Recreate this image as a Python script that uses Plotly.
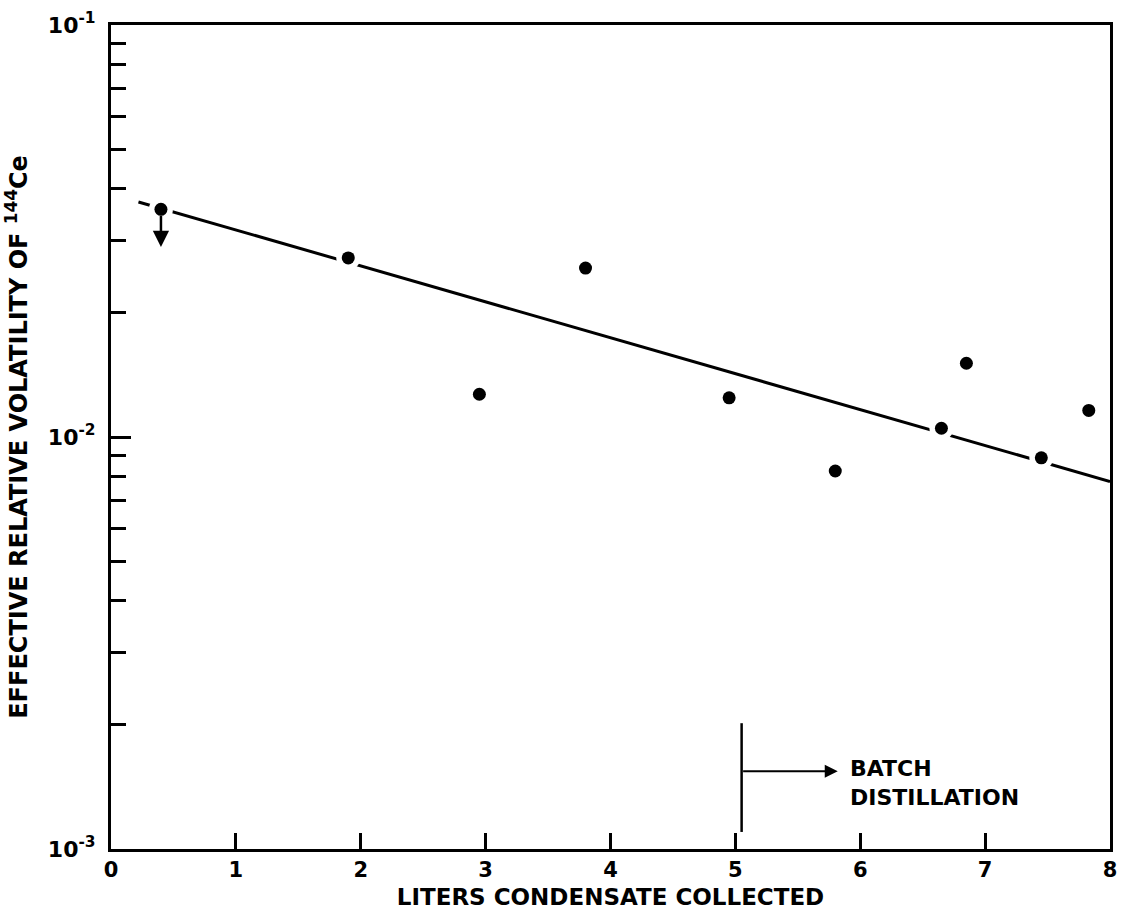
import plotly.graph_objects as go
import math

# Data
liters = [0.4, 1.9, 2.95, 3.8, 4.95, 5.8, 6.65, 6.85, 7.45, 7.83]
volatility = [0.0357, 0.0272, 0.0127, 0.0257, 0.01245, 0.00827, 0.0105, 0.0151, 0.0089, 0.0116]
fit_x = [0.22, 8.0]
fit_y = [0.0372, 0.0078]
limit_x = 0.4
limit_from = 0.0357
limit_to = 0.0289
batch_x = 5.05
batch_line_y = [0.0011, 0.00202]
batch_arrow_y = 0.001545
batch_arrow_end = 5.82
x_ticks = [0, 1, 2, 3, 4, 5, 6, 7, 8]
y_major = [0.001, 0.01, 0.1]
y_major_text = ["10<sup>-3</sup>", "10<sup>-2</sup>", "10<sup>-1</sup>"]
y_minor = [m * d for d in (0.001, 0.01) for m in range(2, 10)]

FONT = "DejaVu Sans"

fig = go.Figure()
fig.add_trace(go.Scatter(x=fit_x, y=fit_y, mode="lines",
                         line=dict(color="black", width=3), showlegend=False))
# white halos that break the fitted line around each point
fig.add_trace(go.Scatter(x=liters, y=volatility, mode="markers", hoverinfo="skip",
                         marker=dict(color="white", size=24), showlegend=False))
fig.add_trace(go.Scatter(x=liters, y=volatility, mode="markers",
                         marker=dict(color="black", size=13), showlegend=False))
# batch distillation vertical line
fig.add_trace(go.Scatter(x=[batch_x, batch_x], y=batch_line_y, mode="lines",
                         line=dict(color="black", width=2.5), showlegend=False))

# upper-limit arrow
fig.add_annotation(x=limit_x, y=math.log10(limit_to), ax=limit_x, ay=math.log10(limit_from) - 0.012,
                   xref="x", yref="y", axref="x", ayref="y", showarrow=True,
                   arrowhead=2, arrowsize=1.3, arrowwidth=2.5, arrowcolor="black", text="")
# batch arrow
fig.add_annotation(x=batch_arrow_end, y=math.log10(batch_arrow_y), ax=batch_x, ay=math.log10(batch_arrow_y),
                   xref="x", yref="y", axref="x", ayref="y", showarrow=True,
                   arrowhead=2, arrowsize=1.3, arrowwidth=2, arrowcolor="black", text="")
fig.add_annotation(x=batch_arrow_end + 0.08, y=math.log10(batch_arrow_y), xref="x", yref="y",
                   text="BATCH<br>DISTILLATION", showarrow=False, xanchor="left", yanchor="top",
                   yshift=17, align="left",
                   font=dict(family=FONT, size=22, color="black", weight="bold"))

fig.update_xaxes(range=[0, 8], tickvals=x_ticks, ticks="inside", ticklen=16, tickwidth=2.5,
                 tickcolor="black", showline=True, linecolor="black", linewidth=3, mirror=True,
                 showgrid=False, zeroline=False,
                 tickfont=dict(family=FONT, size=21, color="black", weight="bold"),
                 title=dict(text="LITERS CONDENSATE COLLECTED", standoff=8,
                            font=dict(family=FONT, size=23, color="black", weight="bold")))
fig.update_yaxes(type="log", range=[-3, -1], tickvals=y_major, ticktext=y_major_text,
                 ticks="inside", ticklen=20, tickwidth=2.5, tickcolor="black",
                 minor=dict(tickvals=y_minor, ticks="inside", ticklen=15, tickwidth=2.5, tickcolor="black"),
                 showline=True, linecolor="black", linewidth=3, mirror=True,
                 showgrid=False, zeroline=False, ticklabelstandoff=8,
                 tickfont=dict(family=FONT, size=22, color="black", weight="bold"),
                 title=dict(text="EFFECTIVE RELATIVE VOLATILITY OF <sup>144</sup>Ce", standoff=14,
                            font=dict(family=FONT, size=24, color="black", weight="bold")))

fig.update_layout(width=1126, height=919, margin=dict(l=111, r=9, t=25, b=70),
                  plot_bgcolor="white", paper_bgcolor="white")
fig.write_html("out.html")
